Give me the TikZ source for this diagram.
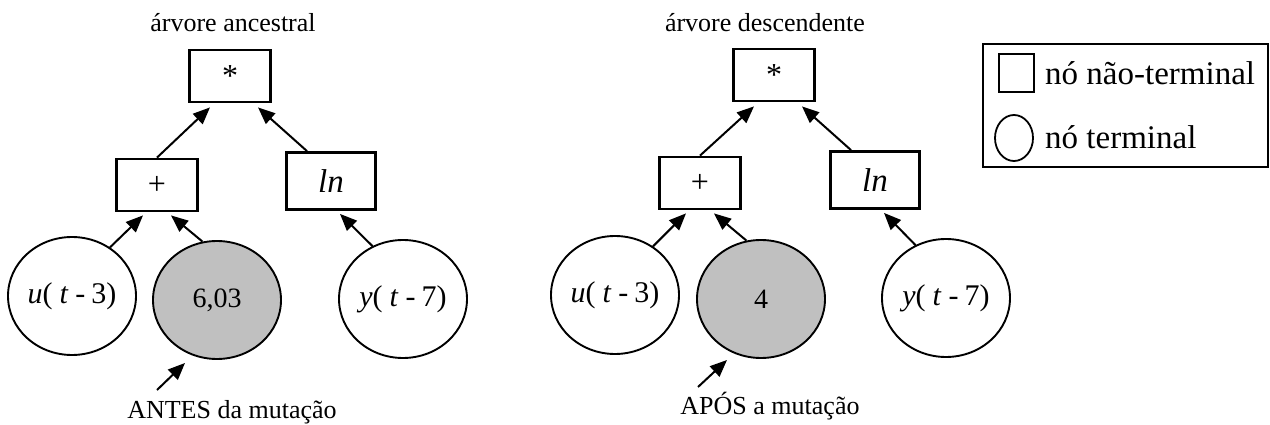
\documentclass[tikz,border=0pt]{standalone}
\usepackage{fontspec}
\setmainfont{Liberation Serif}
\usetikzlibrary{arrows.meta,shapes.geometric,calc}
\definecolor{mgray}{RGB}{192,192,192}
\newcommand{\uterm}{{\fontsize{30}{32}\selectfont\textit{u}(\hspace{7pt}\textit{t}\hspace{7pt}-\hspace{6pt}3)}}
\newcommand{\yterm}{{\fontsize{30}{32}\selectfont\textit{y}(\hspace{7pt}\textit{t}\hspace{7pt}-\hspace{6pt}7)}}
\begin{document}
\begin{tikzpicture}[x=1pt,y=-1pt,
  opbox/.style={draw, line width=2.8pt, minimum width=81pt, minimum height=52pt, inner sep=0pt, font=\fontsize{32}{34}\selectfont},
  lnbox/.style={draw, line width=2.8pt, minimum width=89pt, minimum height=57pt, inner sep=0pt, font=\fontsize{33}{36}\selectfont\itshape},
  term/.style={draw, ellipse, line width=1.9pt, minimum width=128pt, minimum height=118pt, inner sep=0pt, font=\fontsize{28}{30}\selectfont},
  mut/.style={term, fill=mgray},
  arr/.style={line width=2pt, -{Triangle[length=17pt,width=14pt]}},
  lbl/.style={inner sep=0pt, font=\fontsize{26}{30}\selectfont},
  leg/.style={inner sep=0pt, anchor=west, font=\fontsize{33}{36}\selectfont}]
\useasboundingbox (0,0) rectangle (1270,425);
% left tree
\node[lbl] (t1) at (233,23) {árvore ancestral};
\node[opbox] (a1) at (230,76) {*};
\node[opbox] (p1) at (157,185) {+};
\node[lnbox] (l1) at (331,181) {ln};
\node[term] (u1) at (72,296) {\uterm};
\node[mut] (c1) at (217,300) {6,03};
\node[term] (y1) at (403,299) {\yterm};
\draw[arr] (p1.north) -- ($(a1.south)+(-20,4)$);
\draw[arr] ($(l1.north)+(-24,0)$) -- ($(a1.south)+(28,4)$);
\draw[arr] (u1.52) -- ($(p1.south)+(-14,3)$);
\draw[arr] (c1.104) -- ($(p1.south)+(14,3)$);
\draw[arr] (y1.120) -- ($(l1.south)+(9,3)$);
\coordinate (s1) at (157,390);
\draw[arr] (s1) -- (185,363);
\node[lbl] (m1) at (232,412) {ANTES da mutação};
% right tree
\node[lbl] (t2) at (765,23) {árvore descendente};
\node[opbox] (a2) at (774,75) {*};
\node[opbox] (p2) at (700,183) {+};
\node[lnbox] (l2) at (875,180) {ln};
\node[term] (u2) at (615,295) {\uterm};
\node[mut] (c2) at (761,299) {4};
\node[term] (y2) at (946,298) {\yterm};
\draw[arr] (p2.north) -- ($(a2.south)+(-20,4)$);
\draw[arr] ($(l2.north)+(-24,0)$) -- ($(a2.south)+(28,4)$);
\draw[arr] (u2.52) -- ($(p2.south)+(-14,3)$);
\draw[arr] (c2.104) -- ($(p2.south)+(14,3)$);
\draw[arr] (y2.120) -- ($(l2.south)+(9,3)$);
\coordinate (s2) at (698,387);
\draw[arr] (s2) -- (727,360);
\node[lbl] (m2) at (770,406) {APÓS a mutação};
% legend
\node[draw, line width=1.4pt, minimum width=285pt, minimum height=123pt, inner sep=0pt] (lg) at (1125.5,105.5) {};
\node[draw, line width=2.8pt, minimum width=35pt, minimum height=38pt, inner sep=0pt] (lsq) at (1016.5,73) {};
\node[draw, ellipse, line width=1.8pt, minimum width=38pt, minimum height=46pt, inner sep=0pt] (lci) at (1014,138) {};
\node[leg] (ltx1) at (1045,73) {nó não-terminal};
\node[leg] (ltx2) at (1045,137) {nó terminal};
\end{tikzpicture}
\end{document}
